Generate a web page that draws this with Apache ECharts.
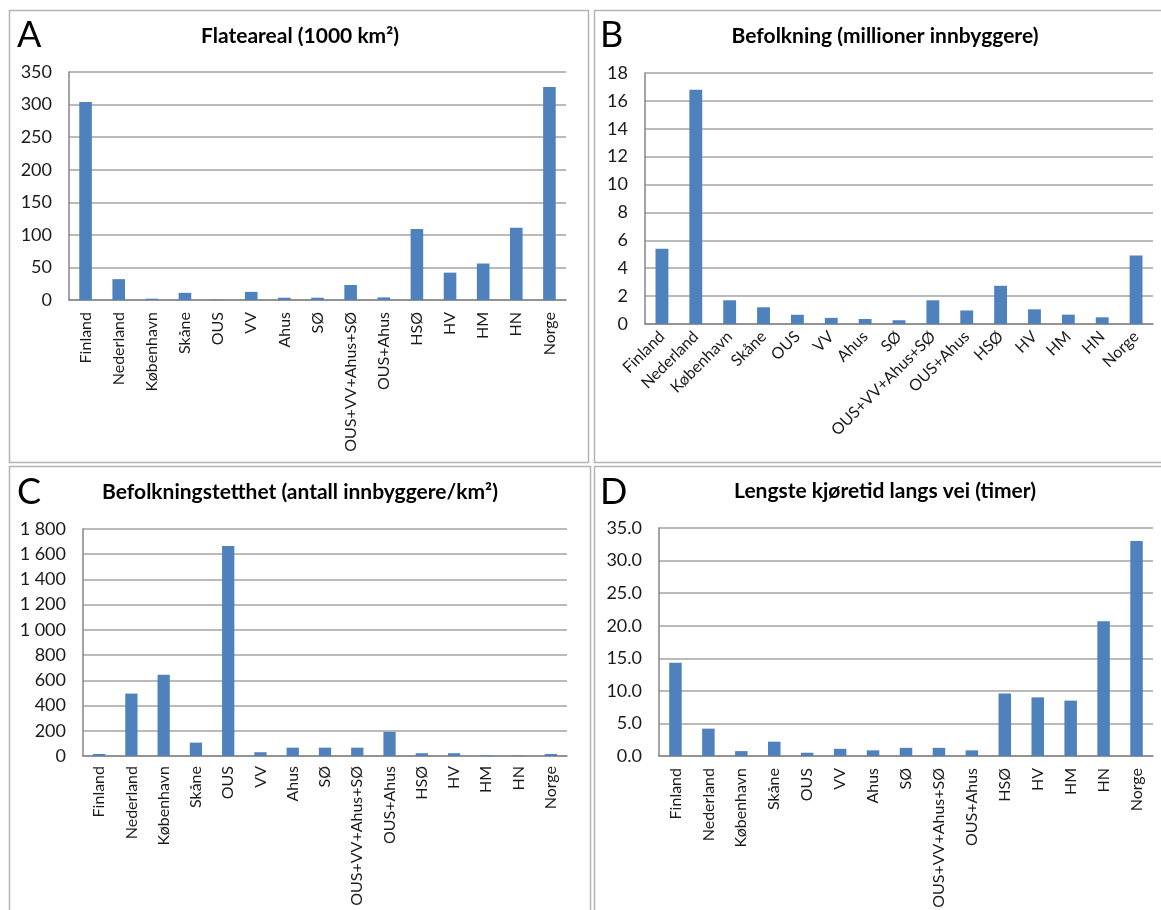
<!DOCTYPE html>
<html>
<head>
<meta charset="utf-8">
<title>Flateareal, befolkning, tetthet og kjøretid</title>
<script src="https://cdn.jsdelivr.net/npm/echarts@6/dist/echarts.min.js"></script>
<style>
  html, body { margin: 0; padding: 0; background: #ffffff; }
  #chart { width: 1161px; height: 910px; }
</style>
</head>
<body>
<div id="chart"></div>
<script>
// Regions compared in all four panels
const categories = ['Finland', 'Nederland', 'København', 'Skåne', 'OUS', 'VV', 'Ahus', 'SØ',
  'OUS+VV+Ahus+SØ', 'OUS+Ahus', 'HSØ', 'HV', 'HM', 'HN', 'Norge'];

// A: land area, 1000 km²
const landArea = [304, 32, 2, 11, 0.45, 12.5, 3.5, 3.5, 23, 4, 109, 42, 56, 111, 327];
// B: population, millions
const population = [5.4, 16.8, 1.7, 1.2, 0.66, 0.44, 0.36, 0.27, 1.7, 0.97, 2.74, 1.05, 0.67, 0.48, 4.92];
// C: population density, inhabitants per km²
const density = [16, 495, 644, 106, 1665, 30, 66, 66, 66, 191, 22, 22, 4, 3, 16];
// D: longest driving time by road, hours
const driveHours = [14.3, 4.2, 0.75, 2.2, 0.5, 1.1, 0.87, 1.25, 1.25, 0.87, 9.6, 9.0, 8.5, 20.7, 33.0];

const panelTitles = ['Flateareal (1000 km²)', 'Befolkning (millioner innbyggere)',
  'Befolkningstetthet (antall innbyggere/km²)', 'Lengste kjøretid langs vei (timer)'];
const panelLetters = ['A', 'B', 'C', 'D'];

// y-axis scales per panel
const yMax = [350, 18, 1800, 35];
const yStep = [50, 2, 200, 5];

const FONT = 'Lato, "Open Sans", sans-serif';
const BAR = '#4F81BD';
const AXIS = '#868686';
const GRIDLINE = '#a3a3a3';
const BORDER = '#b4b4b4';

const gridBoxes = [
  { left: 69, top: 72, width: 497, height: 228 },
  { left: 645, top: 73, width: 508, height: 251 },
  { left: 83, top: 529, width: 484, height: 227 },
  { left: 659, top: 528, width: 494, height: 228 }
];

const titleCenters = [[300, 26], [885, 26], [300, 482], [885, 481]];
const letterPos = [[17, 17], [600, 17], [17, 474], [600, 474]];
const labelRotate = [90, 45, 90, 90];
const labelMargin = [12, 10, 10, 12];

function thousands(v) {
  return String(v).replace(/\B(?=(\d{3})+(?!\d))/g, ' ');
}
const yFormatters = [
  v => String(v),
  v => String(v),
  v => thousands(v),
  v => v.toFixed(1)
];

const seriesData = [landArea, population, density, driveHours];

const chart = echarts.init(document.getElementById('chart'), null, { renderer: 'canvas' });

const option = {
  animation: false,
  backgroundColor: '#ffffff',
  textStyle: { fontFamily: FONT },
  title: [
    ...panelTitles.map((t, i) => ({
      text: t,
      left: titleCenters[i][0],
      top: titleCenters[i][1],
      textAlign: 'center',
      padding: 0,
      textStyle: { fontFamily: FONT, fontSize: 21, fontWeight: 'bold', color: '#000000' }
    })),
    ...panelLetters.map((t, i) => ({
      text: t,
      left: letterPos[i][0],
      top: letterPos[i][1],
      padding: 0,
      textStyle: { fontFamily: FONT, fontSize: 36, fontWeight: 'normal', color: '#000000' }
    }))
  ],
  grid: gridBoxes.map(g => Object.assign({ containLabel: false, outerBoundsMode: 'none' }, g)),
  xAxis: gridBoxes.map((g, i) => ({
    type: 'category',
    gridIndex: i,
    data: categories,
    axisLine: { show: true, lineStyle: { color: AXIS, width: 1.5 } },
    axisTick: { show: false },
    axisLabel: {
      interval: 0,
      rotate: labelRotate[i],
      margin: labelMargin[i],
      fontFamily: FONT,
      fontSize: 16,
      color: '#1a1a1a'
    }
  })),
  yAxis: gridBoxes.map((g, i) => ({
    type: 'value',
    gridIndex: i,
    min: 0,
    max: yMax[i],
    interval: yStep[i],
    axisLine: { show: true, lineStyle: { color: AXIS, width: 1.5 } },
    axisTick: { show: false },
    splitLine: { show: true, lineStyle: { color: GRIDLINE, width: 1.5 } },
    axisLabel: {
      margin: 17,
      fontFamily: FONT,
      fontSize: 18,
      color: '#1a1a1a',
      formatter: yFormatters[i]
    }
  })),
  series: seriesData.map((d, i) => ({
    type: 'bar',
    xAxisIndex: i,
    yAxisIndex: i,
    data: d,
    barWidth: '38%',
    itemStyle: { color: BAR },
    silent: true
  })),
  graphic: [
    { type: 'rect', shape: { x: 9.5, y: 10.5, width: 579, height: 452 },
      style: { fill: 'none', stroke: BORDER, lineWidth: 1.5 } },
    { type: 'rect', shape: { x: 594.5, y: 10.5, width: 620, height: 452 },
      style: { fill: 'none', stroke: BORDER, lineWidth: 1.5 } },
    { type: 'rect', shape: { x: 9.5, y: 466.5, width: 581, height: 520 },
      style: { fill: 'none', stroke: BORDER, lineWidth: 1.5 } },
    { type: 'rect', shape: { x: 594.5, y: 466.5, width: 620, height: 520 },
      style: { fill: 'none', stroke: BORDER, lineWidth: 1.5 } }
  ]
};

chart.setOption(option);
</script>
</body>
</html>
